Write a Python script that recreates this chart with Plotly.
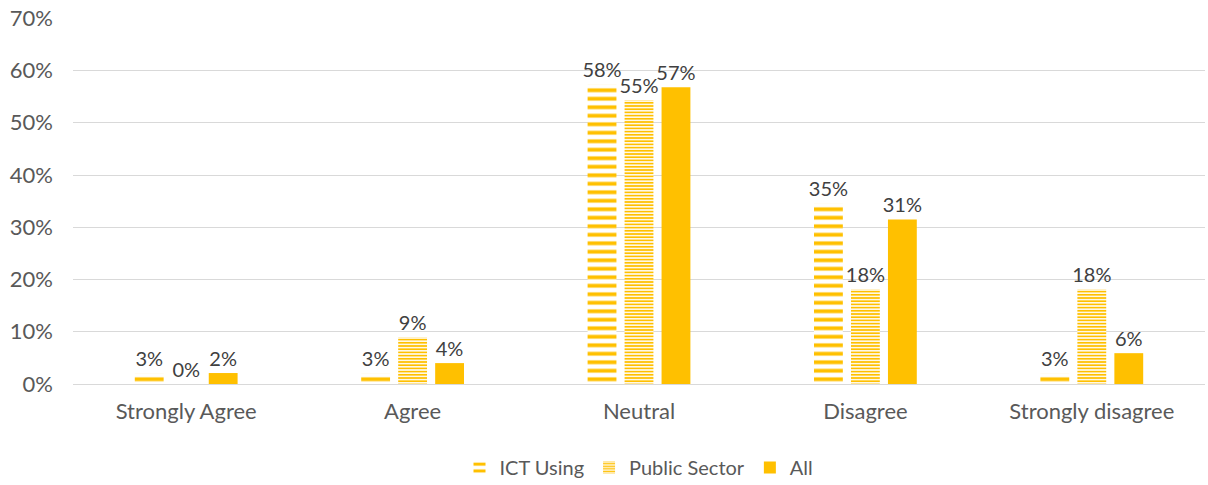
import plotly.graph_objects as go

categories = ["Strongly Agree", "Agree", "Neutral", "Disagree", "Strongly disagree"]
ict_using = [2.1, 2.1, 57.4, 34.6, 2.1]
public_sector = [0.0, 9.0, 54.3, 18.2, 18.2]
all_resp = [2.1, 4.0, 56.8, 31.5, 5.9]
ict_labels = ["3%", "3%", "58%", "35%", "3%"]
ps_labels = ["0%", "9%", "55%", "18%", "18%"]
all_labels = ["2%", "4%", "57%", "31%", "6%"]
y_ticks = [0, 10, 20, 30, 40, 50, 60, 70]

GOLD = "#FFC000"
FONT = "Lato, 'Noto Sans', sans-serif"

fig = go.Figure()
fig.add_trace(go.Bar(
    name="ICT Using", x=categories, y=ict_using, text=ict_labels,
    marker=dict(color=GOLD, line=dict(width=0),
                pattern=dict(shape="-", fgcolor=GOLD, bgcolor="white",
                             fillmode="replace", size=8.5, solidity=0.45)),
))
fig.add_trace(go.Bar(
    name="Public Sector", x=categories, y=public_sector, text=ps_labels,
    marker=dict(color=GOLD, line=dict(width=0),
                pattern=dict(shape="-", fgcolor=GOLD, bgcolor="white",
                             fillmode="replace", size=3.2, solidity=0.55)),
))
fig.add_trace(go.Bar(
    name="All", x=categories, y=all_resp, text=all_labels,
    marker=dict(color=GOLD, line=dict(width=0)),
))

fig.update_traces(textposition="outside", cliponaxis=False, constraintext="none",
                  textfont=dict(family=FONT, size=20, color="#404040"))

fig.update_layout(
    width=1208, height=485,
    margin=dict(l=73, r=3, t=18, b=101, autoexpand=False),
    paper_bgcolor="white", plot_bgcolor="white",
    barmode="group", bargap=0.51, bargroupgap=0.22,
    font=dict(family=FONT, size=21, color="#595959"),
    showlegend=True,
    legend=dict(orientation="h", x=0.5, xanchor="center", y=-0.175, yanchor="top",
                font=dict(size=20, color="#595959"), traceorder="normal"),
)
fig.update_yaxes(
    range=[0, 70.05], tickvals=y_ticks, ticktext=[f"{v}%" for v in y_ticks],
    showgrid=True, gridcolor="#D9D9D9", gridwidth=1, zeroline=False,
    showline=False, ticks="", ticklabelstandoff=19,
    tickfont=dict(size=22, color="#595959"),
)
fig.update_xaxes(
    showline=True, linecolor="#D9D9D9", ticks="",
    tickfont=dict(size=22, color="#595959"), ticklabelstandoff=8,
)

fig.write_html("out.html", config={"displayModeBar": False},
               post_script="document.body.style.margin='0';document.body.style.overflow='hidden';")
